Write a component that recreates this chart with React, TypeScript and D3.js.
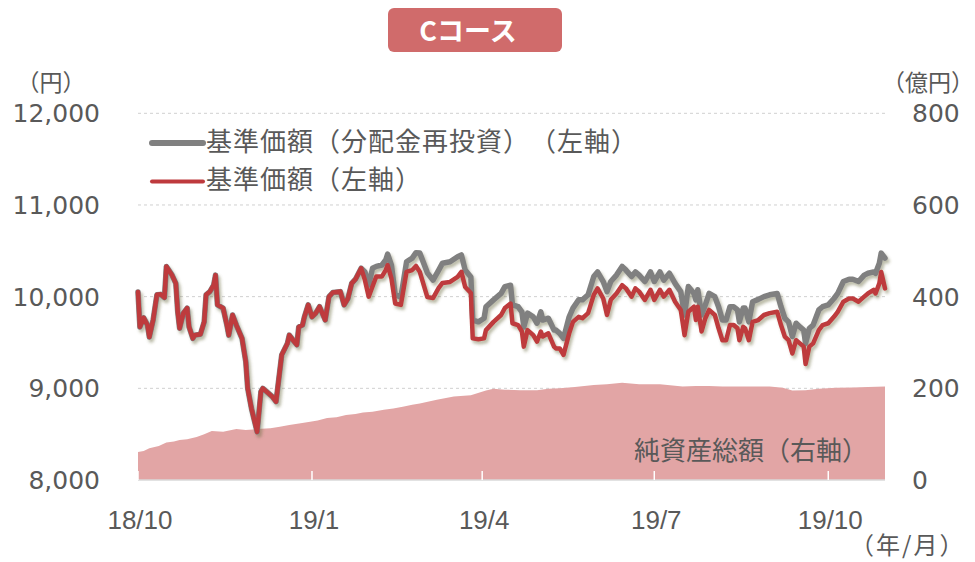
import React from 'react';
import * as d3 from 'd3';

// 2018/10/1 - 2019/10/31, days counted from START
const START = new Date(2018, 9, 1);
const END = new Date(2019, 9, 31);

const priceDays = [0, 1, 3, 5, 6, 8, 10, 12, 14, 15, 18, 20, 21, 22, 24, 26, 27, 29, 30, 33,
  35, 36, 38, 40, 41, 42, 45, 47, 48, 50, 52, 55, 57, 58, 60, 63, 65, 66, 71, 73,
  76, 79, 80, 82, 84, 85, 87, 88, 90, 92, 94, 96, 99, 101, 103, 107, 109, 111, 113, 115,
  118, 120, 122, 124, 126, 129, 131, 132, 134, 136, 139, 142, 145, 147, 149, 153, 156, 159, 161, 165,
  169, 171, 173, 176, 177, 180, 183, 184, 188, 192, 194, 197, 198, 201, 203, 204, 206, 209, 211, 213,
  214, 217, 220, 221, 223, 225, 228, 230, 233, 235, 238, 241, 243, 246, 248, 250, 253, 256, 258, 261,
  263, 265, 268, 271, 273, 276, 278, 281, 284, 287, 289, 291, 294, 295, 296, 298, 300, 302, 305, 307,
  309, 311, 313, 315, 317, 318, 320, 321, 323, 325, 328, 331, 334, 338, 340, 342, 344, 346, 348, 350,
  352, 353, 355, 357, 360, 362, 365, 368, 370, 373, 376, 378, 381, 384, 386, 389, 390, 392, 393, 395];

// 基準価額
const priceValues = [10050, 9670, 9770, 9690, 9560, 9745, 10020, 10025, 9990, 10330, 10235, 10145, 9835, 9655, 9820, 9875, 9670, 9545, 9580, 9590,
  9725, 10020, 10055, 10125, 10235, 9910, 9875, 9690, 9580, 9800, 9690, 9545, 9290, 9000, 8780, 8525, 8965, 9000, 8910, 8855,
  9365, 9490, 9580, 9525, 9475, 9670, 9690, 9780, 9910, 9780, 9820, 9890, 9745, 10000, 10045, 10055, 9910, 9980, 10145, 10190,
  10310, 10180, 10000, 10110, 10220, 10220, 10290, 10345, 10200, 9925, 9910, 10270, 10290, 10335, 10270, 9995, 9985, 10095, 10150, 10160,
  10215, 10270, 10105, 10040, 9545, 9535, 9545, 9635, 9725, 9800, 9875, 9925, 9710, 9690, 9620, 9455, 9635, 9580, 9510, 9620,
  9565, 9600, 9455, 9435, 9435, 9365, 9600, 9725, 9780, 9765, 9820, 10020, 10090, 9980, 9800, 9965, 10035, 10125, 10090, 10000,
  10090, 10055, 9965, 10075, 9965, 10075, 10000, 10075, 9945, 9855, 9580, 9835, 9890, 9745, 9890, 9620, 9765, 9855, 9800, 9655,
  9525, 9525, 9690, 9690, 9655, 9525, 9670, 9655, 9525, 9725, 9745, 9800, 9820, 9835, 9690, 9565, 9525, 9380, 9525, 9490,
  9455, 9265, 9455, 9490, 9635, 9690, 9710, 9780, 9835, 9945, 9980, 9980, 9945, 10000, 10035, 10075, 10035, 10145, 10270, 10090];

// 基準価額（分配金再投資）
const reinvestValues = [10050, 9670, 9770, 9690, 9560, 9745, 10020, 10025, 9990, 10330, 10235, 10145, 9835, 9655, 9820, 9875, 9670, 9545, 9580, 9590,
  9725, 10020, 10055, 10125, 10235, 9910, 9875, 9690, 9580, 9800, 9690, 9545, 9290, 9000, 8780, 8525, 8965, 9000, 8910, 8855,
  9365, 9490, 9580, 9525, 9475, 9670, 9690, 9780, 9910, 9780, 9820, 9890, 9745, 10000, 10045, 10055, 9910, 9980, 10145, 10190,
  10310, 10270, 10125, 10310, 10330, 10345, 10400, 10465, 10345, 10020, 9995, 10380, 10420, 10480, 10475, 10260, 10180, 10290, 10365, 10380,
  10435, 10455, 10290, 10215, 9745, 9725, 9765, 9890, 9965, 10035, 10110, 10125, 9910, 9890, 9835, 9670, 9820, 9780, 9710, 9835,
  9745, 9765, 9635, 9635, 9600, 9545, 9780, 9875, 9965, 9965, 10020, 10220, 10270, 10165, 10055, 10165, 10235, 10330, 10290, 10220,
  10270, 10235, 10165, 10270, 10165, 10270, 10180, 10255, 10145, 10055, 9800, 10110, 10035, 9965, 10075, 9800, 9910, 10035, 10000, 9890,
  9745, 9745, 9890, 9890, 9855, 9725, 9875, 9875, 9725, 9945, 9970, 10000, 10020, 10035, 9890, 9765, 9725, 9565, 9710, 9670,
  9635, 9490, 9655, 9690, 9855, 9890, 9910, 9980, 10035, 10165, 10190, 10190, 10165, 10235, 10255, 10270, 10255, 10365, 10475, 10420];

// 純資産総額（億円）
const navDays = [0, 3, 6, 11, 15, 19, 22, 26, 31, 35, 39, 45, 52, 57, 63, 70, 75, 80, 86, 91,
  95, 100, 105, 110, 115, 119, 124, 130, 135, 140, 145, 149, 158, 167, 176, 184, 188, 194, 202, 211,
  217, 223, 231, 241, 248, 256, 265, 276, 288, 295, 302, 309, 317, 326, 334, 341, 346, 353, 360, 369,
  378, 386, 395];
const navValues = [61, 63, 69, 74, 82, 84, 87, 89, 94, 100, 107, 105, 111, 109, 111, 113, 116, 120, 124, 127,
  130, 135, 137, 142, 144, 147, 149, 153, 156, 160, 164, 167, 175, 182, 185, 195, 199, 197, 196, 196,
  199, 200, 203, 207, 209, 212, 209, 209, 204, 205, 205, 204, 204, 204, 204, 201, 195, 196, 199, 201,
  202, 203, 204];

const leftTicks = [8000, 9000, 10000, 11000, 12000];
const rightTicks = [0, 200, 400, 600, 800];
const monthTicks = [new Date(2018, 9, 1), new Date(2019, 0, 1), new Date(2019, 3, 1), new Date(2019, 6, 1), new Date(2019, 9, 1)];
const monthLabels = ['18/10', '19/1', '19/4', '19/7', '19/10'];

const numFont = "'DejaVu Sans', Verdana, sans-serif";
const jpFont = "'Noto Sans CJK JP', sans-serif";
const textColor = '#595959';

export default function App() {
  const W = 975;
  const H = 562;
  const left = 138, right = 885, top = 113.3, bottom = 480;

  const x = d3.scaleTime().domain([START, END]).range([left, right]);
  const yL = d3.scaleLinear().domain([8000, 12000]).range([bottom, top]);
  const yR = d3.scaleLinear().domain([0, 800]).range([bottom, top]);
  const day = (d: number) => d3.timeDay.offset(START, d);

  const priceLine = d3.line<number>()
    .x((d, i) => x(day(priceDays[i])))
    .y(d => yL(d));
  const navArea = d3.area<number>()
    .x((d, i) => x(day(navDays[i])))
    .y0(bottom)
    .y1(d => yR(d));

  // keep full-width brackets at full width
  const svgStyle: any = { position: 'absolute', left: 0, top: 0, background: '#fff', textSpacingTrim: 'space-all' };

  return (
    <svg width={W} height={H} style={svgStyle}>
      <defs>
        <filter id="shadow" x="-5%" y="-5%" width="110%" height="120%">
          <feDropShadow dx="2" dy="3" stdDeviation="1.6" floodColor="#6b6b40" floodOpacity="0.45" />
        </filter>
      </defs>

      {/* title */}
      <rect x={388} y={8} width={174} height={44} rx={6} fill="#D06B6B" />
      <text x={468} y={41} textAnchor="middle" fill="#fff" fontFamily={jpFont} fontWeight="bold" fontSize={27}>Cコース</text>

      {/* grid */}
      {leftTicks.slice(1).map(t => (
        <line key={t} x1={left} x2={right} y1={yL(t)} y2={yL(t)} stroke="#D0D0D0" strokeDasharray="3,3" />
      ))}

      {/* net assets */}
      <path d={navArea(navValues) || ''} fill="#E2A5A5" />
      <line x1={left} x2={right} y1={bottom} y2={bottom} stroke="#D9D9D9" strokeWidth={1.5} />
      {monthTicks.map((t, i) => (
        <line key={i} x1={x(t)} x2={x(t)} y1={bottom - 9} y2={bottom} stroke="#fff" strokeWidth={1.5} />
      ))}
      <text x={868} y={460} textAnchor="end" fill={textColor} fontFamily={jpFont} fontSize={26}>純資産総額（右軸）</text>

      {/* price lines */}
      <g filter="url(#shadow)" fill="none" strokeLinejoin="round" strokeLinecap="round">
        <path d={priceLine(reinvestValues) || ''} stroke="#808080" strokeWidth={5.5} />
        <path d={priceLine(priceValues) || ''} stroke="#BE3A3D" strokeWidth={4.5} />
      </g>

      {/* left axis */}
      {leftTicks.map(t => (
        <text key={t} x={100} y={yL(t) + 9} textAnchor="end" fill={textColor} fontFamily={numFont} fontSize={25}>
          {d3.format(',')(t)}
        </text>
      ))}
      <text x={51} y={91} textAnchor="middle" fill={textColor} fontFamily={jpFont} fontSize={23}>（円）</text>

      {/* right axis */}
      {rightTicks.map(t => (
        <text key={t} x={912} y={yR(t) + 9} textAnchor="start" fill={textColor} fontFamily={numFont} fontSize={25}>
          {t}
        </text>
      ))}
      <text x={974} y={91} textAnchor="end" fill={textColor} fontFamily={jpFont} fontSize={23}>（億円）</text>

      {/* x axis */}
      {monthTicks.map((t, i) => (
        <text key={i} x={x(t) + 2} y={529} textAnchor="middle" fill={textColor}
          fontFamily="'Liberation Sans Narrow', 'Liberation Sans', sans-serif" fontSize={26}>
          {monthLabels[i]}
        </text>
      ))}
      <text x={850} y={554} textAnchor="start" fill={textColor} fontFamily={jpFont} fontSize={24} letterSpacing={2}>（年/月）</text>

      {/* legend */}
      <line x1={152} x2={203} y1={143} y2={143} stroke="#808080" strokeWidth={6} strokeLinecap="round" />
      <text x={206} y={151} fill={textColor} fontFamily={jpFont} fontSize={26} letterSpacing={1}>基準価額（分配金再投資）（左軸）</text>
      <line x1={152} x2={203} y1={181.5} y2={181.5} stroke="#BE3A3D" strokeWidth={4} strokeLinecap="round" />
      <text x={206} y={189} fill={textColor} fontFamily={jpFont} fontSize={26} letterSpacing={1}>基準価額（左軸）</text>
    </svg>
  );
}
